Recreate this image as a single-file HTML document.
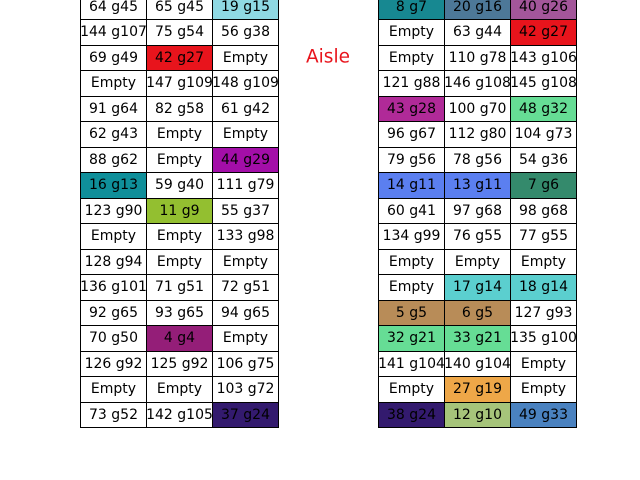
<!DOCTYPE html>
<html><head><meta charset="utf-8"><style>
body{margin:0;width:640px;height:480px;background:#fff;position:relative;overflow:hidden;font-family:"DejaVu Sans","Liberation Sans",sans-serif}
.c{position:absolute;box-sizing:border-box;border:1px solid #000;width:67px;height:26.5px;display:flex;align-items:center;justify-content:center;font-size:14px;color:#000;white-space:nowrap;letter-spacing:0}
#aisle{position:absolute;left:328px;top:57px;transform:translate(-50%,-50%);color:#e8141c;font-size:18.5px}
</style></head><body>
<div id="aisle">Aisle</div>
<script>
const leftRows=[
["64 g45","65 g45","19 g15"],["144 g107","75 g54","56 g38"],["69 g49","42 g27","Empty"],["Empty","147 g109","148 g109"],
["91 g64","82 g58","61 g42"],["62 g43","Empty","Empty"],["88 g62","Empty","44 g29"],["16 g13","59 g40","111 g79"],
["123 g90","11 g9","55 g37"],["Empty","Empty","133 g98"],["128 g94","Empty","Empty"],["136 g101","71 g51","72 g51"],
["92 g65","93 g65","94 g65"],["70 g50","4 g4","Empty"],["126 g92","125 g92","106 g75"],["Empty","Empty","103 g72"],["73 g52","142 g105","37 g24"]];
const rightRows=[
["8 g7","20 g16","40 g26"],["Empty","63 g44","42 g27"],["Empty","110 g78","143 g106"],["121 g88","146 g108","145 g108"],
["43 g28","100 g70","48 g32"],["96 g67","112 g80","104 g73"],["79 g56","78 g56","54 g36"],["14 g11","13 g11","7 g6"],
["60 g41","97 g68","98 g68"],["134 g99","76 g55","77 g55"],["Empty","Empty","Empty"],["Empty","17 g14","18 g14"],
["5 g5","6 g5","127 g93"],["32 g21","33 g21","135 g100"],["141 g104","140 g104","Empty"],["Empty","27 g19","Empty"],["38 g24","12 g10","49 g33"]];
const colors={"19 g15":"#8fd9e3","42 g27":"#e8141c","44 g29":"#a30ea8","16 g13":"#0f8f9a","11 g9":"#93bf30","4 g4":"#941e78","37 g24":"#331a6e",
"8 g7":"#178891","20 g16":"#4d7898","40 g26":"#a3569a","43 g28":"#b02a98","48 g32":"#66dd95","14 g11":"#5b7ff0","13 g11":"#5b7ff0","7 g6":"#348a6c",
"17 g14":"#5bcfcf","18 g14":"#5bcfcf","5 g5":"#b88c58","6 g5":"#b88c58","32 g21":"#66dd95","33 g21":"#66dd95","27 g19":"#eea748",
"38 g24":"#331a6e","12 g10":"#a6c47a","49 g33":"#4a82c0"};
function draw(rows,x0){
  rows.forEach((r,i)=>{r.forEach((t,j)=>{
    const d=document.createElement('div');
    d.className='c';
    
    
    d.style.left=(x0+j*66)+'px';
    d.style.top=(-6.5+i*25.5)+'px';
    d.style.background=colors[t]||'#fff';
    d.textContent=t;
    document.body.appendChild(d);
  });});
}
draw(leftRows,80);
draw(rightRows,378);
</script>
</body></html>
